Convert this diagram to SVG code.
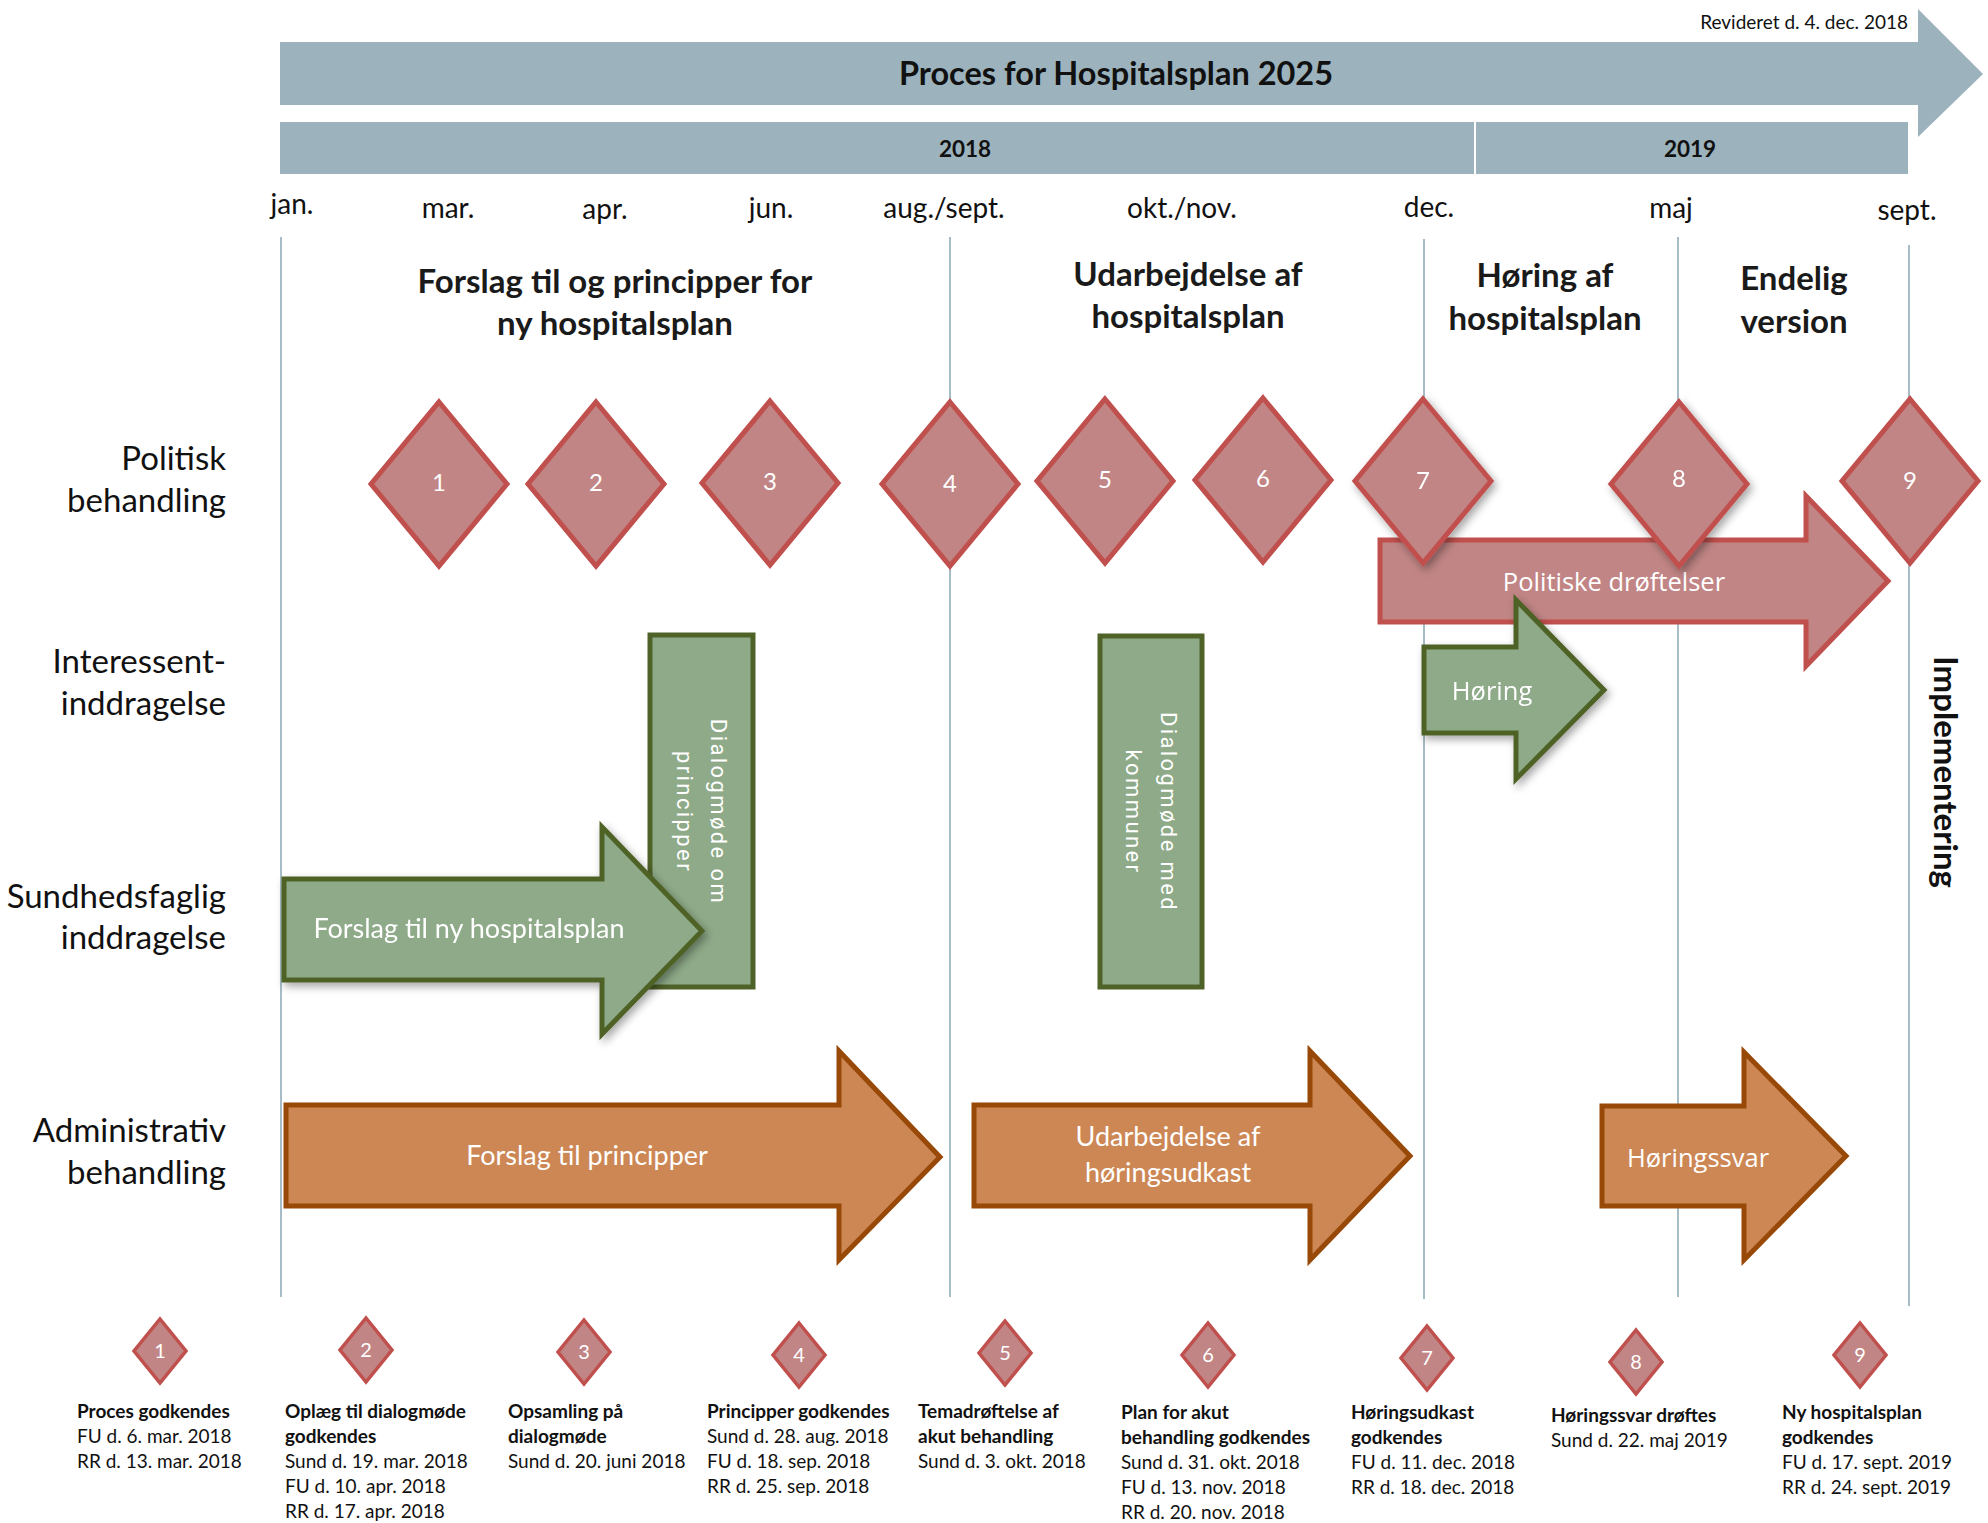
<svg xmlns="http://www.w3.org/2000/svg" width="1988" height="1523" viewBox="0 0 1988 1523">
<defs>
<style>
.bar{fill:#9CB3BD}
.vline{stroke:#9DB5C0;stroke-width:1.8;fill:none}
.dia{fill:#C18585;stroke:#C0504D;stroke-width:5;stroke-linejoin:miter}
.diaS{fill:#C18585;stroke:#C0504D;stroke-width:3.5}
.red{fill:#C18585;stroke:#C0504D;stroke-width:5}
.green{fill:#8EAA88;stroke:#4F6228;stroke-width:5}
.orange{fill:#CC8755;stroke:#984807;stroke-width:5}
.t{font-family:Lato,"Liberation Sans",sans-serif;fill:#111}
.b{font-weight:bold}
.num{font-family:Lato,"Liberation Sans",sans-serif;fill:#fff;font-size:24px;text-anchor:middle}
.numS{font-family:Lato,"Liberation Sans",sans-serif;fill:#fff;font-size:20px;text-anchor:middle}
.w{font-family:Lato,"Liberation Sans",sans-serif;fill:#fff;font-size:27px;text-anchor:middle}
.wo{font-family:"Open Sans","Noto Sans",sans-serif;fill:#fff;font-size:25.5px;text-anchor:middle}
.wr{font-family:Roboto,"Noto Sans",sans-serif;fill:#fff;font-size:22px;letter-spacing:2.4px;text-anchor:middle}
.row{font-family:Lato,"Liberation Sans",sans-serif;fill:#111;font-size:33px;text-anchor:end}
.mon{font-family:Lato,"Liberation Sans",sans-serif;fill:#111;font-size:28px;text-anchor:middle}
.ph{font-family:Lato,"Liberation Sans",sans-serif;fill:#1a1a1a;font-size:33px;font-weight:bold;text-anchor:middle}
.lg{font-family:Lato,"Liberation Sans",sans-serif;fill:#111;font-size:19px}
</style>
<filter id="sh" x="-20%" y="-20%" width="150%" height="150%">
<feDropShadow dx="3" dy="4" stdDeviation="4" flood-color="#000" flood-opacity="0.35"/>
</filter>
</defs>

<g id="header">
<polygon class="bar" points="280,42 1918,42 1918,9 1983,74 1918,137 1918,105 280,105"/>
<text class="t b" x="1116" y="85" font-size="32.5" text-anchor="middle" fill="#1a1a1a">Proces for Hospitalsplan 2025</text>
<text class="t" x="1908" y="29" font-size="19" text-anchor="end">Revideret d. 4. dec. 2018</text>
<rect class="bar" x="280" y="122" width="1194" height="52"/>
<rect class="bar" x="1476" y="122" width="432" height="52"/>
<text class="t b" x="965" y="157" font-size="22.5" text-anchor="middle" fill="#1a1a1a">2018</text>
<text class="t b" x="1690" y="157" font-size="22.5" text-anchor="middle" fill="#1a1a1a">2019</text>
</g>

<g id="months">
<text class="mon" x="292" y="214">jan.</text>
<text class="mon" x="448" y="218">mar.</text>
<text class="mon" x="605" y="219">apr.</text>
<text class="mon" x="771" y="218">jun.</text>
<text class="mon" x="944" y="218">aug./sept.</text>
<text class="mon" x="1182" y="218">okt./nov.</text>
<text class="mon" x="1429" y="217">dec.</text>
<text class="mon" x="1671" y="218">maj</text>
<text class="mon" x="1907" y="220">sept.</text>
</g>

<g id="connectors">
<line class="vline" x1="281" y1="237" x2="281" y2="1297"/>
<line class="vline" x1="950" y1="237" x2="950" y2="1297"/>
<line class="vline" x1="1424" y1="239" x2="1424" y2="1299"/>
<line class="vline" x1="1678" y1="237" x2="1678" y2="1297"/>
<line class="vline" x1="1909" y1="245" x2="1909" y2="1306"/>
</g>

<g id="phases">
<text class="ph" x="615" y="293">Forslag til og principper for</text>
<text class="ph" x="615" y="335">ny hospitalsplan</text>
<text class="ph" x="1188" y="286">Udarbejdelse af</text>
<text class="ph" x="1188" y="328">hospitalsplan</text>
<text class="ph" x="1545" y="287">Høring af</text>
<text class="ph" x="1545" y="330">hospitalsplan</text>
<text class="ph" x="1794" y="290">Endelig</text>
<text class="ph" x="1794" y="333">version</text>
</g>

<g id="rows">
<text class="row" x="226" y="470">Politisk</text>
<text class="row" x="226" y="512">behandling</text>
<text class="row" x="226" y="673">Interessent-</text>
<text class="row" x="226" y="715">inddragelse</text>
<text class="row" x="226" y="908">Sundhedsfaglig</text>
<text class="row" x="226" y="949">inddragelse</text>
<text class="row" x="226" y="1142">Administrativ</text>
<text class="row" x="226" y="1184">behandling</text>
</g>

<g id="politiske-droeftelser">
<polygon class="red" points="1380,540 1806,540 1806,496 1888,581 1806,666 1806,622 1380,622"/>
<text class="wo" x="1614" y="591">Politiske drøftelser</text>
</g>

<g id="milestone-1"><polygon class="dia" points="439,402 507,484 439,566 371,484"/><text class="num" x="439" y="491">1</text></g>
<g id="milestone-2"><polygon class="dia" points="596,402 664,484 596,566 528,484"/><text class="num" x="596" y="491">2</text></g>
<g id="milestone-3"><polygon class="dia" points="770,401 838,483 770,565 702,483"/><text class="num" x="770" y="490">3</text></g>
<g id="milestone-4"><polygon class="dia" points="950,402 1018,484 950,566 882,484"/><text class="num" x="950" y="492">4</text></g>
<g id="milestone-5"><polygon class="dia" points="1105,399 1173,481 1105,563 1037,481"/><text class="num" x="1105" y="488">5</text></g>
<g id="milestone-6"><polygon class="dia" points="1263,398 1331,480 1263,562 1195,480"/><text class="num" x="1263" y="487">6</text></g>
<g id="milestone-7" filter="url(#sh)"><polygon class="dia" points="1423,399 1491,481 1423,563 1355,481"/><text class="num" x="1423" y="489">7</text></g>
<g id="milestone-8" filter="url(#sh)"><polygon class="dia" points="1679,402 1747,484 1679,566 1611,484"/><text class="num" x="1679" y="487">8</text></g>
<g id="milestone-9"><polygon class="dia" points="1910,399 1978,481 1910,563 1842,481"/><text class="num" x="1910" y="489">9</text></g>

<g id="hoering" filter="url(#sh)">
<polygon class="green" points="1424,647 1516,647 1516,600 1604,690 1516,779 1516,733 1424,733"/>
<text class="wo" x="1492" y="700">Høring</text>
</g>

<g id="dialogmoede-principper">
<rect class="green" x="650" y="635" width="103" height="352"/>
<text class="wr" transform="translate(711,812) rotate(90)" x="0" y="0">Dialogmøde om</text>
<text class="wr" transform="translate(677,812) rotate(90)" x="0" y="0">principper</text>
</g>

<g id="dialogmoede-kommuner">
<rect class="green" x="1100" y="636" width="102" height="351"/>
<text class="wr" transform="translate(1161,812) rotate(90)" x="0" y="0">Dialogmøde med</text>
<text class="wr" transform="translate(1126,812) rotate(90)" x="0" y="0">kommuner</text>
</g>

<g id="forslag-ny-hospitalsplan" filter="url(#sh)">
<polygon class="green" points="284,879 602,879 602,827 702,931 602,1034 602,980 284,980"/>
<text class="w" x="469" y="938">Forslag til ny hospitalsplan</text>
</g>

<g id="forslag-principper">
<polygon class="orange" points="286,1105 839,1105 839,1051 940,1157 839,1260 839,1206 286,1206"/>
<text class="w" x="587" y="1165">Forslag til principper</text>
</g>

<g id="udarbejdelse-hoeringsudkast">
<polygon class="orange" points="974,1105 1310,1105 1310,1051 1410,1156 1310,1260 1310,1206 974,1206"/>
<text class="w" x="1168" y="1146">Udarbejdelse af</text>
<text class="w" x="1168" y="1182">høringsudkast</text>
</g>

<g id="hoeringssvar">
<polygon class="orange" points="1602,1106 1744,1106 1744,1052 1846,1156 1744,1260 1744,1206 1602,1206"/>
<text class="wo" x="1698" y="1167">Høringssvar</text>
</g>

<g id="implementering">
<text class="t b" font-size="33" text-anchor="middle" transform="translate(1934,772) rotate(90)">Implementering</text>
</g>

<g id="legend-1"><polygon class="diaS" points="160,1319 186,1351 160,1383 134,1351"/><text class="numS" x="160" y="1358">1</text>
<text class="lg b" x="77" y="1418">Proces godkendes</text><text class="lg" x="77" y="1443">FU d. 6. mar. 2018</text><text class="lg" x="77" y="1468">RR d. 13. mar. 2018</text></g>
<g id="legend-2"><polygon class="diaS" points="366,1318 392,1350 366,1382 340,1350"/><text class="numS" x="366" y="1357">2</text>
<text class="lg b" x="285" y="1418">Oplæg til dialogmøde</text><text class="lg b" x="285" y="1443">godkendes</text><text class="lg" x="285" y="1468">Sund d. 19. mar. 2018</text><text class="lg" x="285" y="1493">FU d. 10. apr. 2018</text><text class="lg" x="285" y="1518">RR d. 17. apr. 2018</text></g>
<g id="legend-3"><polygon class="diaS" points="584,1320 610,1352 584,1384 558,1352"/><text class="numS" x="584" y="1359">3</text>
<text class="lg b" x="508" y="1418">Opsamling på</text><text class="lg b" x="508" y="1443">dialogmøde</text><text class="lg" x="508" y="1468">Sund d. 20. juni 2018</text></g>
<g id="legend-4"><polygon class="diaS" points="799,1323 825,1355 799,1387 773,1355"/><text class="numS" x="799" y="1362">4</text>
<text class="lg b" x="707" y="1418">Principper godkendes</text><text class="lg" x="707" y="1443">Sund d. 28. aug. 2018</text><text class="lg" x="707" y="1468">FU d. 18. sep. 2018</text><text class="lg" x="707" y="1493">RR d. 25. sep. 2018</text></g>
<g id="legend-5"><polygon class="diaS" points="1005,1321 1031,1353 1005,1385 979,1353"/><text class="numS" x="1005" y="1360">5</text>
<text class="lg b" x="918" y="1418">Temadrøftelse af</text><text class="lg b" x="918" y="1443">akut behandling</text><text class="lg" x="918" y="1468">Sund d. 3. okt. 2018</text></g>
<g id="legend-6"><polygon class="diaS" points="1208,1323 1234,1355 1208,1387 1182,1355"/><text class="numS" x="1208" y="1362">6</text>
<text class="lg b" x="1121" y="1419">Plan for akut</text><text class="lg b" x="1121" y="1444">behandling godkendes</text><text class="lg" x="1121" y="1469">Sund d. 31. okt. 2018</text><text class="lg" x="1121" y="1494">FU d. 13. nov. 2018</text><text class="lg" x="1121" y="1519">RR d. 20. nov. 2018</text></g>
<g id="legend-7"><polygon class="diaS" points="1427,1326 1453,1358 1427,1390 1401,1358"/><text class="numS" x="1427" y="1365">7</text>
<text class="lg b" x="1351" y="1419">Høringsudkast</text><text class="lg b" x="1351" y="1444">godkendes</text><text class="lg" x="1351" y="1469">FU d. 11. dec. 2018</text><text class="lg" x="1351" y="1494">RR d. 18. dec. 2018</text></g>
<g id="legend-8"><polygon class="diaS" points="1636,1330 1662,1362 1636,1394 1610,1362"/><text class="numS" x="1636" y="1369">8</text>
<text class="lg b" x="1551" y="1422">Høringssvar drøftes</text><text class="lg" x="1551" y="1447">Sund d. 22. maj 2019</text></g>
<g id="legend-9"><polygon class="diaS" points="1860,1323 1886,1355 1860,1387 1834,1355"/><text class="numS" x="1860" y="1362">9</text>
<text class="lg b" x="1782" y="1419">Ny hospitalsplan</text><text class="lg b" x="1782" y="1444">godkendes</text><text class="lg" x="1782" y="1469">FU d. 17. sept. 2019</text><text class="lg" x="1782" y="1494">RR d. 24. sept. 2019</text></g>
</svg>
